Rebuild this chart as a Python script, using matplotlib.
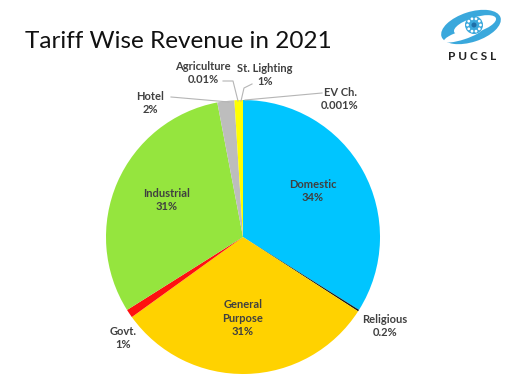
import numpy as np
import matplotlib.pyplot as plt
from matplotlib.patches import Ellipse, Circle

# Tariff wise revenue shares, 2021 (clockwise from top)
categories = ["Domestic", "Religious", "General\nPurpose", "Govt.", "Industrial",
              "Hotel", "Agriculture", "St. Lighting", "EV Ch."]
shares = [34, 0.2, 31, 1, 31, 2, 0.01, 1, 0.001]
pct_labels = ["34%", "0.2%", "31%", "1%", "31%", "2%", "0.01%", "1%", "0.001%"]
colors = ["#00C5FF", "#1A1A1A", "#FFD200", "#FF1010", "#95E53E",
          "#BDBDBD", "#A0A0A0", "#FFFF00", "#70AD47"]

W, H = 512, 387
fig = plt.figure(figsize=(W / 100, H / 100), dpi=100)
ax = fig.add_axes([0, 0, 1, 1])

def py(y):
    # pixel row from the top -> axes y
    return H - y

cx, cy, r = 243, 237, 137
ax.pie(shares, colors=colors, startangle=90, counterclock=False,
       center=(cx, py(cy)), radius=r, frame=True,
       wedgeprops=dict(linewidth=0))
ax.set_xlim(0, W)
ax.set_ylim(0, H)
ax.set_aspect('equal')
ax.axis('off')

fam = ['Lato', 'DejaVu Sans']
lab = dict(fontsize=8, color='#404040', ha='center', va='center',
           family=fam, fontweight='bold', linespacing=1.3)

# labels inside / outside the pie
pos = {
    "Domestic": (313, 191),
    "Religious": (385, 326),
    "General\nPurpose": (243, 318),
    "Govt.": (123, 338),
    "Industrial": (167, 200),
    "Hotel": (150, 103),
    "Agriculture": (203, 73),
    "St. Lighting": (265, 75),
    "EV Ch.": (340, 99),
}
for name, p in zip(categories, pct_labels):
    x, y = pos[name]
    ax.text(x, py(y), name + "\n" + p, **lab)

# leader lines
lc = dict(color='#B5B5B5', lw=0.8)
leaders = [
    [(171, 97), (229, 102)],
    [(223, 81), (233, 81), (238, 101)],
    [(252, 84), (244, 88), (241, 101)],
    [(322, 93), (245, 100)],
]
for seg in leaders:
    ax.plot([p[0] for p in seg], [py(p[1]) for p in seg], **lc)

# title
ax.text(25, py(42), "Tariff Wise Revenue in 2021", fontsize=17.5, color='#111111',
        family=fam, fontweight='normal', ha='left', va='center')

# simple PUCSL logo
lx, ly = 471, py(27)
blue = '#3AA8DC'
ax.add_patch(Ellipse((lx, ly), 62, 30, angle=18, color=blue, lw=0))
ax.add_patch(Ellipse((lx + 4, ly + 2), 44, 15, angle=18, color='white', lw=0))
ax.add_patch(Ellipse((lx - 8, ly - 8), 40, 9, angle=18, color='white', lw=0))
ax.add_patch(Circle((lx + 3, ly + 2), 9, color=blue, lw=0))
for a in np.linspace(0, 2 * np.pi, 10, endpoint=False):
    ax.add_patch(Circle((lx + 3 + 6.5 * np.cos(a), ly + 2 + 6.5 * np.sin(a)), 1.4,
                        color='white', lw=0))
ax.add_patch(Circle((lx + 3, ly + 2), 2.5, color='#1F6FA8', lw=0))
ax.text(472, py(56), "P U C S L", fontsize=8.5, fontweight='bold', color='#222222',
        family=fam, ha='center', va='center')

fig.savefig('out.png', dpi=100)
